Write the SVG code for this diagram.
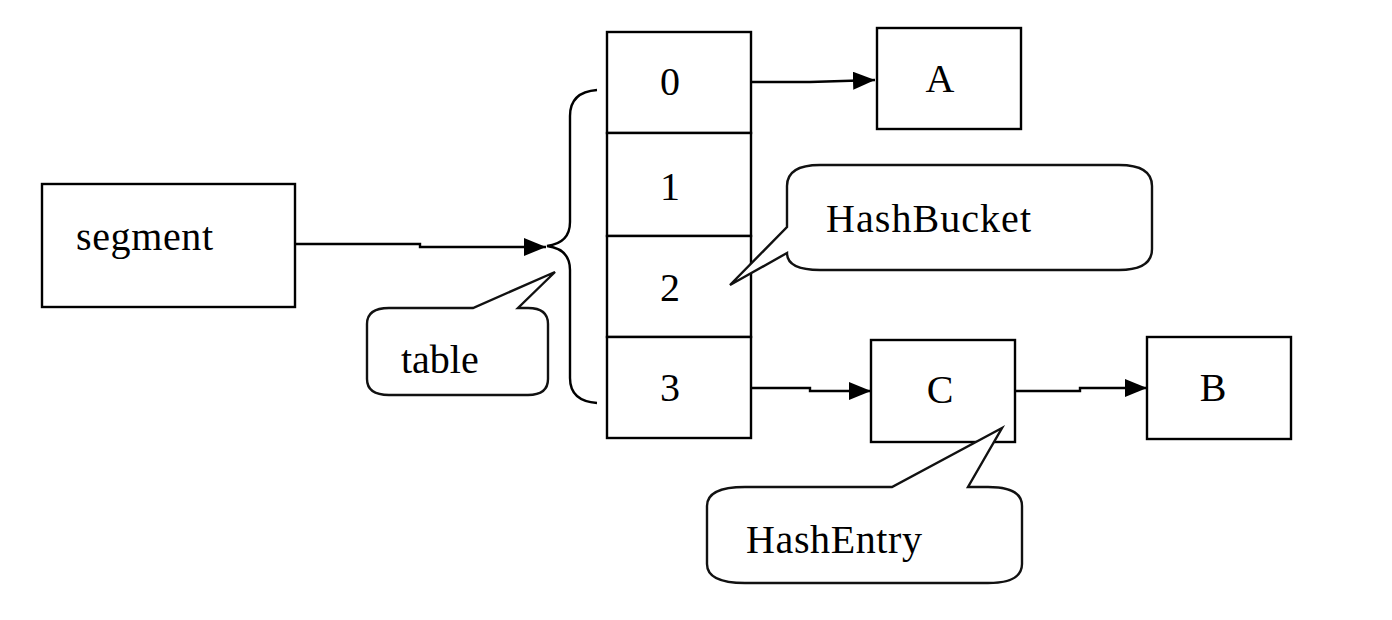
<svg xmlns="http://www.w3.org/2000/svg" width="1392" height="620" viewBox="0 0 1392 620">
<style>
.box{fill:#fff;stroke:#000;stroke-width:2.4}
.call{fill:#fff;stroke:#111;stroke-width:2.4;stroke-linejoin:miter}
.lbl{font-family:"Liberation Serif","Times New Roman",serif;font-size:40px;fill:#000}
.mid{text-anchor:middle}
.conn{fill:none;stroke:#000;stroke-width:2.4}
</style>
<defs>
<marker id="ah" markerWidth="22" markerHeight="18" refX="22" refY="9" orient="auto" markerUnits="userSpaceOnUse">
<path d="M0,0 L22,9 L0,18 Z" fill="#000"/>
</marker>
</defs>
<rect width="1392" height="620" fill="#fff"/>

<g id="segment">
<rect class="box" x="42" y="184" width="253" height="123"/>
<text class="lbl" x="76" y="250" textLength="137">segment</text>
</g>

<g id="table-array">
<rect class="box" x="607" y="32" width="144" height="101"/>
<text class="lbl mid" x="670" y="95">0</text>
<rect class="box" x="607" y="133" width="144" height="103"/>
<text class="lbl mid" x="670" y="200">1</text>
<rect class="box" x="607" y="236" width="144" height="101"/>
<text class="lbl mid" x="670" y="301">2</text>
<rect class="box" x="607" y="337" width="144" height="101"/>
<text class="lbl mid" x="670" y="401">3</text>
</g>

<g id="nodeA">
<rect class="box" x="877" y="28" width="144" height="101"/>
<text class="lbl mid" x="940" y="92">A</text>
</g>
<g id="nodeC">
<rect class="box" x="871" y="340" width="144" height="102"/>
<text class="lbl mid" x="940" y="403">C</text>
</g>
<g id="nodeB">
<rect class="box" x="1147" y="337" width="144" height="102"/>
<text class="lbl mid" x="1213" y="401">B</text>
</g>

<g id="brace">
<path class="conn" d="M597 90 Q570 92 570 116 V222 Q570 243 547 246 Q570 249 570 270 V378 Q570 401 597 403"/>
</g>

<g id="callout-table">
<path class="call" d="M389 308 H473 L555 272 L518 308 H528 Q548 308 548 324 V379 Q548 395 528 395 H389 Q367 395 367 379 V324 Q367 308 389 308 Z"/>
<text class="lbl" x="401" y="373">table</text>
</g>

<g id="callout-hashbucket">
<path class="call" d="M820 165 H1119 Q1152 165 1152 186 V249 Q1152 270 1119 270 H820 Q787 270 787 253 L730 285 L787 227 V186 Q787 165 820 165 Z"/>
<text class="lbl" x="826" y="232" textLength="205">HashBucket</text>
</g>

<g id="callout-hashentry">
<path class="call" d="M745 487 H892 L1002 428 L968 487 H988 Q1022 487 1022 506 V564 Q1022 583 988 583 H745 Q707 583 707 564 V506 Q707 487 745 487 Z"/>
<text class="lbl" x="746" y="553" textLength="176">HashEntry</text>
</g>

<g id="connectors">
<path class="conn" d="M295 244 H420 V247 H546" marker-end="url(#ah)"/>
<path class="conn" d="M751 82 H810 L875 80" marker-end="url(#ah)"/>
<path class="conn" d="M751 388 H810 V391 H871" marker-end="url(#ah)"/>
<path class="conn" d="M1015 391 H1080 V388 H1147" marker-end="url(#ah)"/>
</g>
</svg>
